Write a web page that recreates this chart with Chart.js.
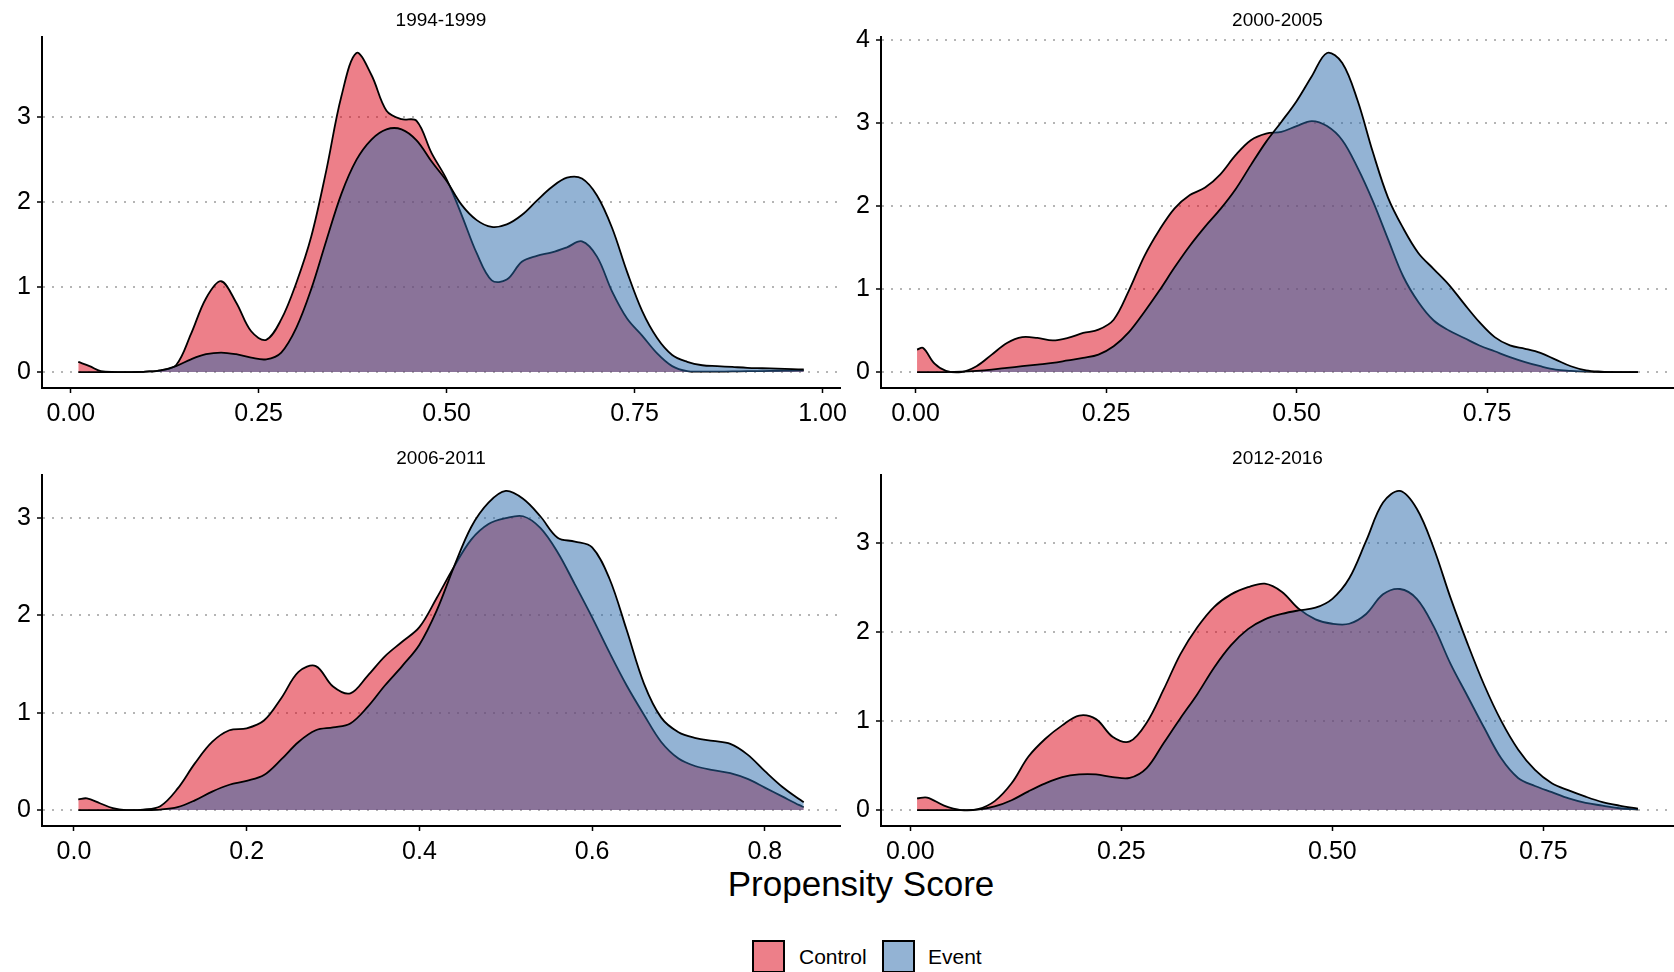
<!DOCTYPE html>
<html>
<head>
<meta charset="utf-8">
<script src="https://cdn.jsdelivr.net/npm/chart.js@4.4.0/dist/chart.umd.min.js"></script>
<style>
  html, body { margin: 0; padding: 0; background: #fff; }
  body {
    width: 1674px; height: 972px; position: relative; overflow: hidden;
    font-family: "Liberation Sans", Arial, Helvetica, sans-serif; color: #000;
  }
  canvas { position: absolute; }
  .ptitle { position: absolute; font-size: 19px; transform: translate(-50%, -50%); white-space: nowrap; }
  #xtitle { position: absolute; left: 861px; top: 884px; font-size: 35px; transform: translate(-50%, -50%); white-space: nowrap; }
  .key { position: absolute; top: 940px; width: 29px; height: 29px; border: 2px solid #000; }
  .keylab { position: absolute; top: 957px; font-size: 21px; transform: translateY(-50%); white-space: nowrap; }
</style>
</head>
<body>
<div id="xtitle">Propensity Score</div>
<div class="key" style="left:752px; background:#ed7f89;"></div>
<div class="keylab" style="left:799px;">Control</div>
<div class="key" style="left:882px; background:#93b3d4;"></div>
<div class="keylab" style="left:928px;">Event</div>

<script>
// --- データ (密度推定の読み取り値) ---

const panelTitles = ['1994-1999', '2000-2005', '2006-2011', '2012-2016'];
const groupNames = ['Control', 'Event'];

// 1994-1999
const x1994 = [0.01, 0.025, 0.04, 0.06, 0.08, 0.10, 0.12, 0.14, 0.16, 0.18, 0.20, 0.22, 0.24, 0.26, 0.28, 0.30,
  0.32, 0.34, 0.36, 0.38, 0.40, 0.42, 0.44, 0.46, 0.48, 0.50, 0.52, 0.54, 0.56, 0.58, 0.60, 0.62, 0.64, 0.66,
  0.68, 0.70, 0.72, 0.74, 0.76, 0.78, 0.80, 0.82, 0.84, 0.86, 0.88, 0.90, 0.92, 0.94, 0.96, 0.975];
const control1994 = [0.12, 0.07, 0.01, 0.0, 0.0, 0.005, 0.02, 0.08, 0.45, 0.87, 1.07, 0.82, 0.48, 0.38, 0.62, 1.05,
  1.6, 2.38, 3.25, 3.76, 3.5, 3.08, 2.98, 2.96, 2.58, 2.27, 1.85, 1.4, 1.08, 1.09, 1.3, 1.37, 1.41, 1.47,
  1.54, 1.36, 0.95, 0.63, 0.43, 0.22, 0.07, 0.01, 0.005, 0.005, 0.007, 0.01, 0.012, 0.015, 0.018, 0.02];
const event1994 = [0.0, 0.0, 0.0, 0.0, 0.0, 0.005, 0.02, 0.07, 0.15, 0.21, 0.23, 0.21, 0.17, 0.15, 0.23, 0.52,
  0.98, 1.55, 2.1, 2.5, 2.74, 2.86, 2.86, 2.73, 2.48, 2.25, 1.97, 1.79, 1.71, 1.74, 1.85, 2.02, 2.18, 2.29,
  2.28, 2.08, 1.7, 1.18, 0.72, 0.4, 0.2, 0.12, 0.08, 0.07, 0.06, 0.05, 0.045, 0.04, 0.035, 0.03];

// 2000-2005
const x2000 = [0.002, 0.01, 0.025, 0.04, 0.06, 0.08, 0.10, 0.12, 0.14, 0.16, 0.18, 0.20, 0.22, 0.24, 0.26, 0.28,
  0.30, 0.32, 0.34, 0.36, 0.38, 0.40, 0.42, 0.44, 0.46, 0.48, 0.50, 0.52, 0.54, 0.56, 0.58, 0.60, 0.62, 0.64,
  0.66, 0.68, 0.70, 0.72, 0.74, 0.76, 0.78, 0.80, 0.82, 0.84, 0.86, 0.88, 0.90, 0.92, 0.94, 0.948];
const control2000 = [0.27, 0.29, 0.1, 0.015, 0.0, 0.07, 0.21, 0.35, 0.42, 0.41, 0.38, 0.41, 0.47, 0.51, 0.63, 0.98,
  1.39, 1.71, 1.97, 2.13, 2.22, 2.38, 2.61, 2.79, 2.87, 2.89, 2.96, 3.02, 2.96, 2.79, 2.46, 2.06, 1.6, 1.15,
  0.84, 0.62, 0.5, 0.41, 0.32, 0.25, 0.18, 0.12, 0.07, 0.03, 0.015, 0.005, 0.0, 0.0, 0.0, 0.0];
const event2000 = [0.0, 0.0, 0.0, 0.0, 0.005, 0.015, 0.03, 0.05, 0.07, 0.09, 0.11, 0.14, 0.17, 0.21, 0.31, 0.48,
  0.72, 0.98, 1.26, 1.52, 1.75, 1.96, 2.2, 2.49, 2.77, 3.01, 3.26, 3.56, 3.84, 3.72, 3.27, 2.65, 2.1, 1.73,
  1.43, 1.24, 1.05, 0.82, 0.6, 0.42, 0.32, 0.28, 0.23, 0.15, 0.07, 0.02, 0.005, 0.0, 0.0, 0.0];

// 2006-2011
const x2006 = [0.005, 0.015, 0.03, 0.045, 0.06, 0.08, 0.10, 0.12, 0.14, 0.16, 0.18, 0.20, 0.22, 0.24, 0.26, 0.28,
  0.30, 0.32, 0.34, 0.36, 0.38, 0.40, 0.42, 0.44, 0.46, 0.48, 0.50, 0.52, 0.54, 0.56, 0.58, 0.60, 0.62, 0.64,
  0.66, 0.68, 0.70, 0.72, 0.74, 0.76, 0.78, 0.80, 0.82, 0.84, 0.845];
const control2006 = [0.11, 0.12, 0.07, 0.02, 0.0, 0.005, 0.04, 0.22, 0.48, 0.7, 0.82, 0.84, 0.92, 1.15, 1.42, 1.48,
  1.27, 1.2, 1.38, 1.58, 1.73, 1.88, 2.18, 2.5, 2.78, 2.94, 3.0, 3.02, 2.9, 2.65, 2.32, 1.98, 1.62, 1.28,
  0.98, 0.7, 0.53, 0.45, 0.41, 0.38, 0.32, 0.23, 0.14, 0.05, 0.03];
const event2006 = [0.0, 0.0, 0.0, 0.0, 0.0, 0.0, 0.005, 0.03, 0.1, 0.19, 0.26, 0.3, 0.36, 0.52, 0.7, 0.82,
  0.85, 0.89, 1.06, 1.28, 1.48, 1.7, 2.05, 2.5, 2.91, 3.16, 3.28, 3.2, 3.02, 2.8, 2.76, 2.7, 2.38, 1.85,
  1.3, 0.95, 0.8, 0.74, 0.71, 0.68, 0.57, 0.4, 0.24, 0.11, 0.08];

// 2012-2016
const x2012 = [0.008, 0.02, 0.04, 0.06, 0.08, 0.10, 0.12, 0.14, 0.16, 0.18, 0.20, 0.22, 0.24, 0.26, 0.28, 0.30,
  0.32, 0.34, 0.36, 0.38, 0.40, 0.42, 0.44, 0.46, 0.48, 0.50, 0.52, 0.54, 0.56, 0.58, 0.60, 0.62, 0.64, 0.66,
  0.68, 0.70, 0.72, 0.74, 0.76, 0.78, 0.80, 0.82, 0.84, 0.862];
const control2012 = [0.13, 0.14, 0.05, 0.0, 0.01, 0.1, 0.3, 0.6, 0.8, 0.95, 1.06, 1.02, 0.82, 0.77, 0.98, 1.35,
  1.75, 2.05, 2.28, 2.42, 2.5, 2.54, 2.45, 2.26, 2.14, 2.09, 2.09, 2.2, 2.42, 2.48, 2.37, 2.06, 1.64, 1.28,
  0.92, 0.58, 0.36, 0.27, 0.2, 0.13, 0.08, 0.05, 0.02, 0.005];
const event2012 = [0.0, 0.0, 0.0, 0.0, 0.005, 0.04, 0.11, 0.21, 0.3, 0.37, 0.4, 0.4, 0.37, 0.36, 0.47, 0.75,
  1.03, 1.3, 1.6, 1.85, 2.03, 2.14, 2.2, 2.24, 2.27, 2.37, 2.6, 3.02, 3.45, 3.58, 3.38, 2.94, 2.38, 1.87,
  1.4, 1.0, 0.68, 0.45, 0.3, 0.22, 0.15, 0.09, 0.05, 0.015];

// --- 描画設定 ---

const FONT = '"Liberation Sans", Arial, Helvetica, sans-serif';
const CONTROL_FILL = 'rgba(220, 0, 20, 0.5)';
const EVENT_FILL = 'rgba(40, 104, 170, 0.5)';

const panels = [
  { title: panelTitles[0], xs: x1994, control: control1994, event: event1994, step: 0.25, dec: 2,
    left: 0, top: 0, w: 870, h: 440, areaLeft: 42, areaRight: 840 },
  { title: panelTitles[1], xs: x2000, control: control2000, event: event2000, step: 0.25, dec: 2,
    left: 840, top: 0, w: 834, h: 440, areaLeft: 41, areaRight: 834 },
  { title: panelTitles[2], xs: x2006, control: control2006, event: event2006, step: 0.2, dec: 1,
    left: 0, top: 438, w: 870, h: 440, areaLeft: 42, areaRight: 840 },
  { title: panelTitles[3], xs: x2012, control: control2012, event: event2012, step: 0.25, dec: 2,
    left: 840, top: 438, w: 834, h: 440, areaLeft: 41, areaRight: 834 }
];

const AREA_TOP = 37;
const AREA_BOTTOM = 388;

function densityDataset(label, xs, ys, fill, order) {
  return {
    label: label,
    data: xs.map((x, i) => ({ x: x, y: ys[i] })),
    borderColor: '#000',
    borderWidth: 1.8,
    backgroundColor: fill,
    fill: 'origin',
    pointRadius: 0,
    tension: 0.35,
    order: order
  };
}

function buildPanel(p) {
  const cv = document.createElement('canvas');
  cv.width = p.w;
  cv.height = p.h;
  cv.style.left = p.left + 'px';
  cv.style.top = p.top + 'px';
  cv.style.width = p.w + 'px';
  cv.style.height = p.h + 'px';
  document.body.appendChild(cv);

  const t = document.createElement('div');
  t.className = 'ptitle';
  t.textContent = p.title;
  t.style.left = (p.left + (p.areaLeft + p.areaRight) / 2) + 'px';
  t.style.top = (p.top + 20) + 'px';
  document.body.appendChild(t);

  // ggplot 風の 5% 拡張
  const xmin = p.xs[0], xmax = p.xs[p.xs.length - 1];
  const xpad = (xmax - xmin) * 0.05;
  const ymax = Math.max(...p.control, ...p.event);

  new Chart(cv, {
    type: 'line',
    data: {
      datasets: [
        densityDataset(groupNames[0], p.xs, p.control, CONTROL_FILL, 2),
        densityDataset(groupNames[1], p.xs, p.event, EVENT_FILL, 1)
      ]
    },
    options: {
      responsive: false,
      animation: false,
      devicePixelRatio: 1,
      events: [],
      layout: { padding: { left: 0, right: p.w - p.areaRight, top: AREA_TOP, bottom: 0 } },
      plugins: { legend: { display: false }, tooltip: { enabled: false } },
      scales: {
        x: {
          type: 'linear',
          min: xmin - xpad,
          max: xmax + xpad,
          grid: { display: true, drawOnChartArea: false, drawTicks: true, tickLength: 5,
                  tickColor: '#000', tickWidth: 1.5, tickBorderDash: [] },
          border: { display: true, color: '#000', width: 2 },
          ticks: {
            stepSize: p.step, includeBounds: false, autoSkip: false, maxRotation: 0,
            color: '#000', padding: 6, font: { family: FONT, size: 25 },
            callback: (v) => Number(v).toFixed(p.dec)
          },
          afterFit: (s) => { s.height = p.h - AREA_BOTTOM; s.paddingLeft = 0; s.paddingRight = 0; }
        },
        y: {
          min: -0.05 * ymax,
          max: 1.05 * ymax,
          grid: { color: '#b5b5b5', lineWidth: 2, drawTicks: true, tickLength: 5,
                  tickColor: '#000', tickWidth: 1.5, tickBorderDash: [] },
          border: { display: true, color: '#000', width: 2, dash: [2, 7] },
          ticks: {
            stepSize: 1, includeBounds: false, color: '#000', padding: 6,
            font: { family: FONT, size: 25 },
            callback: (v) => Number(v).toFixed(0)
          },
          afterFit: (s) => { s.width = p.areaLeft; }
        }
      }
    }
  });
}

panels.forEach(buildPanel);
</script>
</body>
</html>
